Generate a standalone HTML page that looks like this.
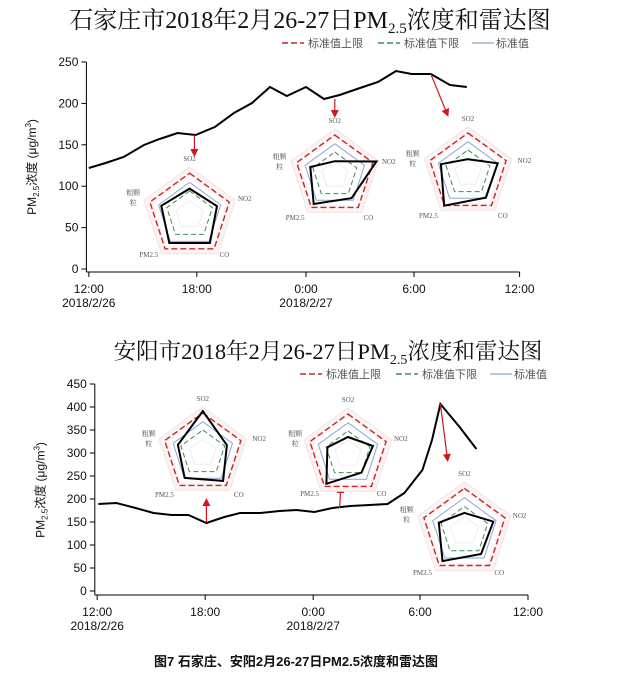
<!DOCTYPE html>
<html><head><meta charset="utf-8"><style>
body{margin:0;background:#fff;}
svg{display:block;}
.t{font-family:"Liberation Serif","Noto Serif CJK SC",serif;font-size:24px;fill:#111;}
.lg{font-family:"Liberation Sans","Noto Sans CJK SC",sans-serif;font-size:11px;fill:#555;}
.tk{font-family:"Liberation Sans",sans-serif;font-size:12px;fill:#111;}
.rl{font-family:"Liberation Serif","Noto Serif CJK SC",serif;font-size:7px;fill:#555;}
</style></head><body>
<svg id="s" width="622" height="676" xmlns="http://www.w3.org/2000/svg">
<defs><marker id="ar" markerWidth="8" markerHeight="8" refX="6" refY="4" orient="auto" markerUnits="userSpaceOnUse"><path d="M0,0 L8,4 L0,8 z" fill="#d0191f"/></marker></defs>
<text class="t" x="310" y="28" text-anchor="middle">石家庄市2018年2月26-27日PM<tspan font-size="15" dy="5">2.5</tspan><tspan dy="-5">浓度和雷达图</tspan></text>
<text class="t" x="328" y="359" text-anchor="middle" style="font-size:22.5px">安阳市2018年2月26-27日PM<tspan font-size="14" dy="5">2.5</tspan><tspan dy="-5">浓度和雷达图</tspan></text>
<text x="296" y="666" text-anchor="middle" style="font-family:'Liberation Sans','Noto Sans CJK SC',sans-serif;font-size:13px;font-weight:bold;fill:#111">图7 石家庄、安阳2月26-27日PM2.5浓度和雷达图</text>
<g id="g"></g>
</svg>
<script>
const K=1.2;const X=v=>v*K;
const g=document.getElementById('g');let h='';
function legend(y,x0){
 h+=`<line x1="${x0}" y1="${y}" x2="${x0+22}" y2="${y}" stroke="#c0282d" stroke-width="1.5" stroke-dasharray="6,3"/><text class="lg" x="${x0+26}" y="${y+4}">标准值上限</text>`;
 h+=`<line x1="${x0+96}" y1="${y}" x2="${x0+118}" y2="${y}" stroke="#3a8a5a" stroke-width="1.5" stroke-dasharray="6,3"/><text class="lg" x="${x0+122}" y="${y+4}">标准值下限</text>`;
 h+=`<line x1="${x0+190}" y1="${y}" x2="${x0+212}" y2="${y}" stroke="#8aa6d6" stroke-width="1.2"/><text class="lg" x="${x0+214}" y="${y+4}">标准值</text>`;
}
legend(43,282);legend(374,300);
function axes(ax,y0,ypx,step,n,axy,xt,ylab){
 ax=X(ax);xt=xt.map(X);
 h+=`<line x1="${ax}" y1="${y0-n*ypx}" x2="${ax}" y2="${axy}" stroke="#000"/>`;
 for(let i=0;i<=n;i++){let y=y0-i*ypx;h+=`<line x1="${ax-5}" y1="${y}" x2="${ax}" y2="${y}" stroke="#000"/><text class="tk" x="${ax-8}" y="${y+4}" text-anchor="end">${i*step}</text>`;}
 h+=`<line x1="${ax}" y1="${axy}" x2="${xt[4]}" y2="${axy}" stroke="#000"/>`;
 const lb=['12:00','18:00','0:00','6:00','12:00'],db=['2018/2/26','','2018/2/27','',''];
 xt.forEach((x,i)=>{h+=`<line x1="${x}" y1="${axy}" x2="${x}" y2="${axy+5}" stroke="#000"/><text class="tk" x="${x}" y="${axy+21}" text-anchor="middle">${lb[i]}</text>`;if(db[i])h+=`<text class="tk" x="${x}" y="${axy+35}" text-anchor="middle">${db[i]}</text>`;});
 h+=`<text class="tk" transform="translate(${X(ylab[0])},${ylab[1]}) rotate(-90)" text-anchor="middle" style="font-family:'Liberation Sans','Noto Sans CJK SC',sans-serif">PM<tspan font-size="8" dy="3">2.5</tspan><tspan dy="-3">浓度 (μg/m</tspan><tspan font-size="8" dy="-5">3</tspan><tspan dy="5">)</tspan></text>`;
}
axes(72,269,41.4,50,5,272,[74,164,255,345,433],[30,167]);
axes(79,591,23,50,9,595,[81,171,261,350,440],[37,490]);
function line(p){h+=`<polyline points="${p.map(a=>X(a[0])+','+a[1]).join(' ')}" fill="none" stroke="#000" stroke-width="2"/>`;}
line([[74,168],[88,163],[103,157],[120,145],[133,139],[148,133],[163,135],[179,127],[195,113],[210,103],[225,87],[239,96],[255,87],[270,99],[283,95],[300,88],[315,82],[330,71],[343,74],[359,74],[375,85],[389,87]]);
line([[82,504],[97,503],[113,508],[128,513],[143,515],[157,515],[172,523],[187,517],[200,513],[217,513],[233,511],[247,510],[262,512],[277,508],[292,506],[308,505],[323,504],[337,493],[352,470],[360,440],[367,404],[383,427],[397,449]]);
function arrow(a,b,c,d){h+=`<line x1="${X(a)}" y1="${b}" x2="${X(c)}" y2="${d}" stroke="#d0191f" stroke-width="1.2" marker-end="url(#ar)"/>`;}
arrow(162,135,162,155);arrow(279,99,279,116);arrow(359,74,373,115);
arrow(172,523,172,500);arrow(283,508,284,487);arrow(367,404,373,460);
const ang=[-90,-18,54,126,198].map(a=>a*Math.PI/180);
function poly(cx,cy,R,v){return ang.map((a,i)=>{let r=R*(Array.isArray(v)?v[i]:v);return (cx+r*Math.cos(a)).toFixed(1)+','+(cy+r*Math.sin(a)).toFixed(1);}).join(' ');}
function radar(cx,cy,R,d,lab){
 cx=X(cx);lab=lab.map(p=>[X(p[0]),p[1]]);
 h+=`<polygon points="${poly(cx,cy,R,1)}" fill="#fdf3f3" stroke="#f0e4e4"/>`;
 h+=`<polygon points="${poly(cx,cy,R,0.8)}" fill="#fff" stroke="none"/>`;
 h+=`<polygon points="${poly(cx,cy,R,0.3)}" fill="#fff" stroke="#eee"/>`;
 h+=`<polygon points="${poly(cx,cy,R,0.87)}" fill="none" stroke="#c0282d" stroke-width="1.4" stroke-dasharray="6,3"/>`;
 h+=`<polygon points="${poly(cx,cy,R,0.68)}" fill="none" stroke="#8aa6d6" stroke-width="1"/>`;
 h+=`<polygon points="${poly(cx,cy,R,0.5)}" fill="none" stroke="#3a8a5a" stroke-width="1" stroke-dasharray="5,3"/>`;
 h+=`<polygon points="${poly(cx,cy,R,d)}" fill="none" stroke="#000" stroke-width="2"/>`;
 h+=`<text class="rl" x="${cx}" y="${cy-R-6}" text-anchor="middle">SO2</text>`;
 h+=`<text class="rl" x="${lab[0][0]}" y="${lab[0][1]}" text-anchor="middle">NO2</text>`;
 h+=`<text class="rl" x="${lab[1][0]}" y="${lab[1][1]}" text-anchor="middle">CO</text>`;
 h+=`<text class="rl" x="${lab[2][0]}" y="${lab[2][1]}" text-anchor="middle">PM2.5</text>`;
 h+=`<text class="rl" x="${lab[3][0]}" y="${lab[3][1]}" text-anchor="middle">粗颗</text><text class="rl" x="${lab[3][0]}" y="${lab[3][1]+10}" text-anchor="middle">粒</text>`;
}
radar(158,215,48,[0.55,0.6,0.72,0.72,0.62],[[204,201],[187,257],[124,257],[111,195]]);
radar(279,175,46,[0.3,0.95,0.62,0.78,0.56],[[324,164],[307,220],[246,220],[233,159]]);
radar(390,173,46,[0.3,0.68,0.66,0.88,0.62],[[437,163],[419,218],[357,218],[344,156]]);
radar(169,453,46,[0.91,0.55,0.75,0.67,0.57],[[216,441],[199,497],[137,497],[124,436]]);
radar(290,454,46,[0.37,0.57,0.5,0.8,0.47],[[334,441],[318,496],[258,496],[246,436]]);
radar(387,531,49,[0.37,0.62,0.58,0.76,0.55],[[433,518],[416,575],[352,575],[339,512]]);
g.innerHTML=h;
</script>
</body></html>
